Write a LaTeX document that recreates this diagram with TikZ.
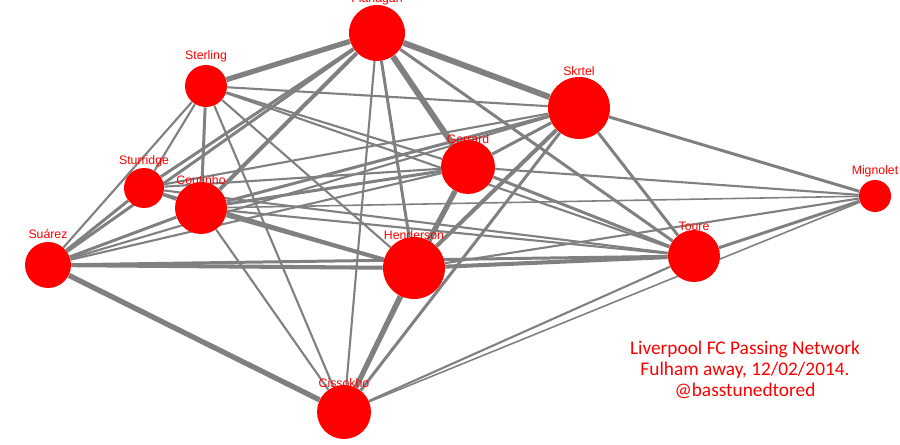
\documentclass[tikz,border=0pt]{standalone}
\usepackage{fontspec}
\setmainfont{Liberation Sans}
\newfontfamily\titlefont{Carlito}
\usetikzlibrary{backgrounds}
\definecolor{nodered}{RGB}{255,0,0}
\definecolor{edgegrey}{RGB}{128,128,128}
\begin{document}
\begin{tikzpicture}[x=0.02cm,y=-0.02cm,
            player/.style = {circle,fill=nodered,inner sep=0pt},
            pname/.style = {font=\fontsize{7}{8}\selectfont,text=nodered},
            pass/.style = {draw=edgegrey}]
            \useasboundingbox (0,0) rectangle (900,445);
            \node[player,minimum size=1.12cm,label={[pname,label distance=-4pt]above:Flanagan}] (fla) at (377,33) {};
            \node[player,minimum size=0.84cm,label={[pname,label distance=-2pt]above:Sterling}] (ste) at (206,86) {};
            \node[player,minimum size=1.24cm,label={[pname,label distance=-3pt]above:Skrtel}] (skr) at (579,108) {};
            \node[player,minimum size=1.08cm,label={[pname,label distance=-6pt]above:Gerrard}] (ger) at (468,167) {};
            \node[player,minimum size=0.80cm,label={[pname,label distance=-3pt]above:Sturridge}] (stu) at (144,188) {};
            \node[player,minimum size=1.04cm,label={[pname,label distance=-5pt]above:Coutinho}] (cou) at (201,208) {};
            \node[player,minimum size=0.64cm,label={[pname,label distance=-2pt]above:Mignolet}] (mig) at (875,196) {};
            \node[player,minimum size=0.92cm,label={[pname,label distance=-2pt]above:Suárez}] (sua) at (48,265) {};
            \node[player,minimum size=1.24cm,label={[pname,label distance=-5pt]above:Henderson}] (hen) at (414,268) {};
            \node[player,minimum size=1.04cm,label={[pname,label distance=-4pt]above:Toure}] (tou) at (694,256) {};
            \node[player,minimum size=1.08cm,label={[pname,label distance=-5pt]above:Cissokho}] (cis) at (344,412) {};
            % passes between players
            \begin{scope}[on background layer]
            \foreach \a/\b/\w in {fla/ste/3,fla/skr/3.4,fla/ger/3.4,fla/cou/2.3,fla/stu/1.7,
                fla/sua/1.7,fla/hen/1.7,fla/tou/1.7,fla/cis/1.2,ste/skr/1.2,ste/ger/1.2,
                ste/cou/1.7,ste/stu/1.2,ste/sua/1.2,ste/hen/1.2,ste/cis/1.2,ste/tou/1.2,
                skr/ger/1.7,skr/cou/1.7,skr/hen/2.3,skr/tou/1.7,skr/mig/1.7,skr/cis/1.7,
                skr/sua/1.2,skr/stu/1.2,ger/cou/1.7,ger/hen/3,ger/tou/1.7,ger/cis/1.2,
                ger/sua/1.2,ger/stu/1.2,ger/mig/1.2,stu/cou/1.7,stu/sua/1.7,stu/hen/1.2,
                stu/tou/1.2,cou/sua/1.7,cou/hen/2.3,cou/tou/1.2,cou/cis/1.2,cou/mig/0.9,
                sua/hen/2.3,sua/tou/1.7,sua/cis/3,hen/tou/2.3,hen/cis/3,hen/mig/1.2,
                tou/mig/1.7,tou/cis/1.2,mig/cis/0.9}
                \draw[pass,line width=\w pt] (\a) -- (\b);
            \end{scope}
            \node[align=center,text=nodered,font=\titlefont\fontsize{11}{12}\selectfont] (title) at (745,370)
                {Liverpool FC Passing Network\\Fulham away, 12/02/2014.\\@basstunedtored};
\end{tikzpicture}
\end{document}
